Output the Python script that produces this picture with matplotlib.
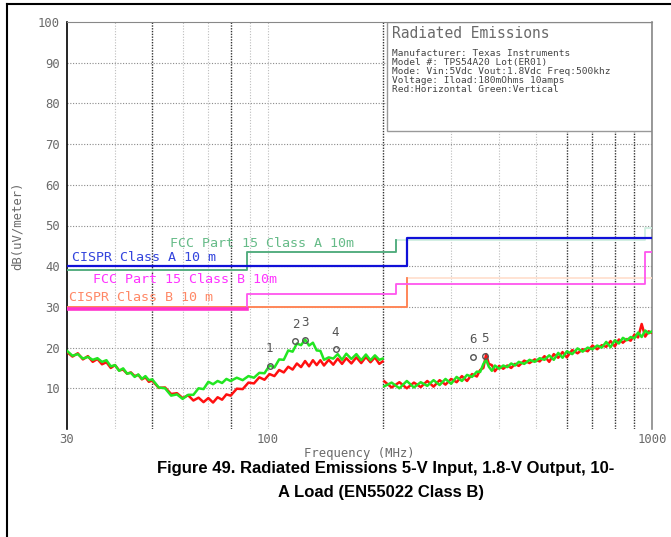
import matplotlib.pyplot as plt
from matplotlib.lines import Line2D
from matplotlib.patches import Rectangle
from matplotlib.ticker import NullLocator

# scan 1 : 30 - 200 MHz
freq_lo = [30, 31, 32, 33, 34, 35, 36, 37, 38, 39, 40, 41, 42, 43, 44, 45, 46, 47, 48, 49, 50,
           52, 54, 56, 58, 60, 62, 64, 66, 68, 70, 72, 74, 76, 78, 80,
           83, 86, 89, 92, 95, 98, 101, 104, 107, 110, 113, 116, 119, 122, 125, 128, 131, 134, 137, 140,
           144, 148, 152, 156, 160, 165, 170, 175, 180, 185, 190, 195, 199]
horiz_lo = [18.9, 17.8, 18.6, 17.1, 17.9, 16.5, 17.2, 15.9, 16.4, 15.0, 15.7, 14.4, 14.6, 13.6, 13.9,
            13.0, 13.3, 12.2, 12.7, 11.6, 11.9,
            10.1, 10.2, 8.6, 8.8, 7.6, 8.3, 7.0, 7.7, 6.6, 7.6, 6.5, 7.8, 7.2, 8.5, 8.2,
            9.9, 9.8, 11.4, 11.2, 12.7, 12.1, 13.5, 13.0, 14.5, 13.9, 15.3, 14.6, 16.1, 15.2, 16.7,
            15.4, 16.9, 15.7, 16.9, 15.6,
            17.0, 15.8, 17.3, 16.0, 17.4, 16.1, 17.6, 16.2, 17.7, 16.4, 17.6, 16.0, 16.6]
vert_lo = [19.2, 18.0, 18.4, 17.3, 17.7, 17.0, 17.4, 16.5, 16.9, 15.4, 15.7, 14.3, 14.9, 13.6, 13.8,
           12.8, 13.4, 12.3, 13.0, 12.0, 12.2,
           10.2, 10.0, 8.2, 8.5, 7.4, 8.4, 8.4, 10.0, 9.8, 11.6, 11.0, 11.8, 11.3, 12.3, 11.8,
           12.6, 12.0, 13.0, 12.6, 13.8, 13.7, 15.6, 15.1, 17.1, 17.0, 19.3, 19.0, 21.0, 20.6, 22.0,
           20.5, 21.2, 19.3, 19.2, 17.0,
           17.6, 17.3, 18.4, 17.0, 18.5, 17.2, 18.4, 16.9, 18.3, 16.9, 18.1, 17.0, 17.3]

# scan 2 : 200 - 1000 MHz
freq_hi = [201, 210, 220, 230, 240, 250, 260, 270, 280, 290, 300, 310, 320, 330, 340, 350, 357, 364,
           370, 376, 383, 390, 400, 410, 420, 430, 440, 450, 465, 480, 495, 510, 525, 540, 555, 570,
           585, 600, 620, 640, 660, 680, 700, 720, 740, 760, 780, 800, 820, 840, 860, 880, 900, 920,
           940, 960, 980, 1000]
horiz_hi = [11.7, 10.2, 11.5, 10.0, 11.4, 10.3, 11.8, 10.4, 12.0, 10.9,
            12.3, 11.5, 13.0, 11.8, 13.5, 12.9, 14.5, 15.0, 18.4, 16.0,
            15.7, 14.2, 15.5, 14.8, 15.6, 15.0, 16.0, 15.5, 16.8, 16.2,
            17.1, 16.6, 17.9, 16.5, 18.4, 17.5, 18.9, 17.6, 19.4, 18.6,
            19.6, 19.1, 20.5, 19.6, 20.6, 20.2, 21.6, 20.3, 22.0, 21.2,
            22.1, 21.7, 23.2, 22.5, 25.8, 22.7, 24.0, 23.6]
vert_hi = [10.5, 11.4, 10.0, 11.8, 10.2, 11.5, 10.6, 12.0, 10.8, 12.3,
           11.1, 12.8, 11.8, 13.3, 12.8, 14.1, 14.0, 16.0, 17.0, 15.3,
           14.3, 15.6, 14.8, 15.6, 15.2, 16.1, 15.6, 16.5, 16.0, 17.0,
           16.5, 17.4, 17.0, 18.1, 17.0, 18.7, 17.5, 19.1, 18.4, 19.8,
           19.0, 20.0, 19.6, 20.5, 20.0, 21.4, 20.1, 21.8, 21.0, 22.4,
           21.8, 22.6, 22.3, 23.7, 22.6, 24.2, 23.5, 24.0]

# limit lines (dBuV/m)
fcc_a_freq = [30, 88, 216, 960, 1000]
fcc_a_level = [39.1, 43.5, 46.4, 49.5, 49.5]
cispr_a_freq = [30, 230, 1000]
cispr_a_level = [40, 47, 47]
fcc_b_freq = [30, 88, 216, 960, 1000]
fcc_b_level = [29.5, 33.1, 35.6, 43.5, 43.5]
cispr_b_freq = [30, 230, 1000]
cispr_b_level = [30, 37, 37]

# peak markers
marker_ids = ['1', '2', '3', '4', '5', '6']
marker_freq = [101, 118, 125, 150, 368, 343]
marker_level = [15.6, 21.6, 21.9, 19.6, 18.0, 17.8]

y_ticks = [10, 20, 30, 40, 50, 60, 70, 80, 90, 100]
x_ticks = [30, 100, 1000]
x_ticklabels = ['30', '100', '1000']
grid_dark = [50, 80, 200, 600, 700, 800, 900]
grid_light = [40, 60, 70, 90, 100, 300, 400, 500]

W, H = 671, 537
MONO = 'DejaVu Sans Mono'
GREY = '#6a6a6a'


def px(x, y):
    return x / W, 1 - y / H


fig = plt.figure(figsize=(W / 100, H / 100), dpi=100)
ax = fig.add_axes([67 / W, 1 - 429 / H, (652 - 67) / W, (429 - 22) / H])
ax.set_xscale('log')
ax.set_xlim(30, 1000)
ax.set_ylim(0, 100)

# grid
for y in y_ticks[:-1]:
    ax.axhline(y, color='#8a8a8a', lw=0.8, ls=(0, (1, 1.5)), zorder=1)
for f in grid_light:
    ax.axvline(f, color='#bdbdbd', lw=0.8, ls=(0, (1, 1.5)), zorder=1)
for f in grid_dark:
    ax.axvline(f, color='#333333', lw=1.0, ls=(0, (1, 1)), zorder=1)

# limit lines (upper bands are printed faint on the original)
ax.step(fcc_a_freq, fcc_a_level, where='post', color='#cfeee0', lw=1.3, zorder=3)
ax.step(fcc_a_freq[:3], fcc_a_level[:3], where='post', color='#4daa7a', lw=1.3, zorder=3)
ax.step(cispr_a_freq, cispr_a_level, where='post', color='#1010d8', lw=1.6, zorder=3)
ax.step(cispr_b_freq, cispr_b_level, where='post', color='#ffe0d0', lw=1.3, zorder=3)
ax.step(cispr_b_freq[:2], cispr_b_level[:2], where='post', color='#ff8050', lw=1.3, zorder=3)
ax.step(fcc_b_freq, fcc_b_level, where='post', color='#ff55ee', lw=1.3, zorder=3)
ax.plot(fcc_b_freq[:2], fcc_b_level[:1] * 2, color='#ff33cc', lw=2.6, zorder=3)

ax.text(55.6, 45.6, 'FCC Part 15 Class A 10m', color='#66bb88', family=MONO, fontsize=9.6, va='center')
ax.text(30.9, 42.2, 'CISPR Class A 10 m', color='#3344dd', family=MONO, fontsize=9.6, va='center')
ax.text(35.0, 36.8, 'FCC Part 15 Class B 10m', color='#ff33ff', family=MONO, fontsize=9.6, va='center')
ax.text(30.4, 32.4, 'CISPR Class B 10 m', color='#ff8866', family=MONO, fontsize=9.6, va='center')

# measured traces, red = horizontal, green = vertical
ax.plot(freq_lo, horiz_lo, color='#ff1010', lw=1.8, zorder=4)
ax.plot(freq_hi, horiz_hi, color='#ff1010', lw=1.8, zorder=4)
ax.plot(freq_lo, vert_lo, color='#22e622', lw=1.8, zorder=5)
ax.plot(freq_hi, vert_hi, color='#22e622', lw=1.8, zorder=5)

ax.plot(marker_freq, marker_level, ls='none', marker='o', ms=4, mfc='none', mec='#555555', mew=1, zorder=6)
for lab, f, v in zip(marker_ids, marker_freq, marker_level):
    ax.text(f, v + 2.6, lab, color='#555555', family=MONO, fontsize=9, ha='center', va='bottom', zorder=6)

# info box
ax.add_patch(Rectangle((0.547, 0.732), 0.453, 0.268, transform=ax.transAxes,
                       facecolor='white', edgecolor='#999999', lw=1, zorder=2))
fig.text(*px(392, 33), 'Radiated Emissions', family=MONO, fontsize=10.5, color=GREY, va='center')
info_lines = ['Manufacturer: Texas Instruments',
              'Model #: TPS54A20 Lot(ER01)',
              'Mode: Vin:5Vdc Vout:1.8Vdc Freq:500khz',
              'Voltage: Iload:180mOhms 10amps',
              'Red:Horizontal Green:Vertical']
for i, line in enumerate(info_lines):
    fig.text(*px(392, 53 + 9 * i), line, family=MONO, fontsize=6.8, color='#444444', va='center')

# axes styling
ax.xaxis.set_minor_locator(NullLocator())
ax.set_xticks(x_ticks)
ax.set_xticklabels(x_ticklabels)
ax.set_yticks(y_ticks)
ax.tick_params(length=0, labelsize=8.8, labelcolor=GREY)
ax.tick_params(axis='x', pad=3)
ax.tick_params(axis='y', pad=5)
for t in ax.get_xticklabels() + ax.get_yticklabels():
    t.set_family(MONO)
ax.set_xlabel('Frequency (MHz)', family=MONO, fontsize=8.8, color=GREY)
ax.xaxis.set_label_coords(0.5, -0.043)
ax.set_ylabel('dB(uV/meter)', family=MONO, fontsize=8.8, color=GREY, labelpad=10)
ax.spines['bottom'].set_visible(False)
ax.spines['left'].set_color('black')
ax.spines['left'].set_linewidth(1.2)
ax.spines['top'].set_color('#888888')
ax.spines['right'].set_color('#888888')
ax.spines['right'].set_linewidth(1.2)

# caption
fig.text(*px(386, 468), 'Figure 49. Radiated Emissions 5-V Input, 1.8-V Output, 10-',
         family='Liberation Sans', weight='bold', fontsize=12, ha='center', va='center')
fig.text(*px(381, 492), 'A Load (EN55022 Class B)',
         family='Liberation Sans', weight='bold', fontsize=12, ha='center', va='center')

# page frame
fig.add_artist(Line2D([7 / W, 7 / W], [0, 1 - 4 / H], color='black', lw=1.5))
fig.add_artist(Line2D([7 / W, 1], [1 - 4 / H, 1 - 4 / H], color='black', lw=1.5))

fig.savefig('out.png', dpi=100)
